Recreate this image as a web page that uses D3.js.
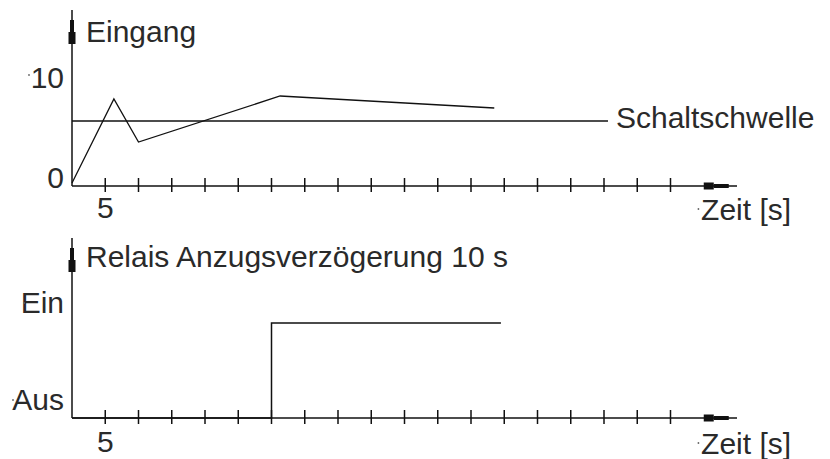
<!DOCTYPE html>
<html>
<head>
<meta charset="utf-8">
<script src="https://cdn.jsdelivr.net/npm/d3@7/dist/d3.min.js"></script>
<style>
  html, body { margin: 0; padding: 0; background: #fff; }
  svg text { font-family: "Liberation Sans", Arial, sans-serif; fill: #2a2a2a; }
</style>
</head>
<body>
<svg id="chart" width="830" height="459"></svg>
<script>
// ---- data ----
const inputTimes  = [0, 6.3, 10, 31.3, 63.5];      // s
const inputValues = [0, 8.4, 4.1, 8.7, 7.5];
const threshold = 6.2;
const thresholdEnd = 80.6;                          // s
const relayTimes  = [0, 30, 30, 64.5];
const relayStates = [0, 0, 1, 1];
const timeTicks = [5,10,15,20,25,30,35,40,45,50,55,60,65,70,75,80,85,90];
const timeTickLabels = ["5"];
const inputTickValues = [0, 10];
const inputTickLabels = ["0", "10"];
const relayTickValues = [0, 1];
const relayTickLabels = ["Aus", "Ein"];

const titleTop = "Eingang";
const titleBottom = "Relais Anzugsverzögerung 10 s";
const thresholdLabel = "Schaltschwelle";
const timeLabel = "Zeit [s]";

// ---- layout ----
const svg = d3.select("#chart");
const FS = 30;
const x = d3.scaleLinear().domain([0, 100]).range([72, 737]);
const yTop = d3.scaleLinear().domain([0, 10]).range([183, 83]);
const yBot = d3.scaleLinear().domain([0, 1]).range([418, 323]);

const panels = [
  { axisY: 186, topY: 10, title: titleTop, titleY: 42, tickBase: 218 },
  { axisY: 418, topY: 238, title: titleBottom, titleY: 267, tickBase: 452 }
];

const ink = "#111";

panels.forEach(p => {
  const g = svg.append("g");
  const ax = g.append("g").attr("transform", `translate(0,${p.axisY})`)
    .call(d3.axisBottom(x).tickValues(timeTicks).tickSize(0).tickFormat(""));
  ax.select(".domain").remove();
  g.append("line").attr("x1", x(0)).attr("x2", x(100))
    .attr("y1", p.axisY).attr("y2", p.axisY)
    .attr("stroke", ink).attr("stroke-width", 1.5);
  g.selectAll("line.tk").data(timeTicks).join("line").attr("class", "tk")
    .attr("x1", d => x(d)).attr("x2", d => x(d))
    .attr("y1", p.axisY - 8).attr("y2", p.axisY + 6)
    .attr("stroke", ink).attr("stroke-width", 1.5);
  // x arrow decoration
  g.append("rect").attr("x", x(95)).attr("y", p.axisY - 3.5).attr("width", 10).attr("height", 7).attr("fill", ink);
  g.append("rect").attr("x", x(95) + 10).attr("y", p.axisY - 2).attr("width", 15).attr("height", 4).attr("fill", ink);
  // x tick label
  g.selectAll("text.xl").data(timeTickLabels).join("text").attr("class", "xl")
    .attr("x", d => x(+d)).attr("y", p.tickBase).attr("text-anchor", "middle")
    .attr("font-size", FS).text(d => d);
  // time label
  g.append("circle").attr("cx", x(94.2)).attr("cy", p.tickBase - 9).attr("r", 0.9).attr("fill", "#666");
  g.append("text").attr("x", x(94.6)).attr("y", p.tickBase + 2).attr("font-size", FS).text(timeLabel);
  // y axis
  g.append("line").attr("x1", x(0)).attr("x2", x(0))
    .attr("y1", p.topY).attr("y2", p.axisY)
    .attr("stroke", ink).attr("stroke-width", 1.5);
  g.append("rect").attr("x", x(0) - 2).attr("y", p.topY + 10).attr("width", 4).attr("height", 12).attr("fill", ink);
  g.append("rect").attr("x", x(0) - 3.5).attr("y", p.topY + 22).attr("width", 7).attr("height", 12).attr("fill", ink);
  // title
  g.append("text").attr("x", 86).attr("y", p.titleY).attr("font-size", FS).text(p.title);
});

// ---- top panel: y tick labels ----
svg.selectAll("text.yt").data(inputTickValues).join("text").attr("class", "yt")
  .attr("x", 64).attr("y", d => yTop(d) + 5).attr("text-anchor", "end")
  .attr("font-size", FS).text((d, i) => inputTickLabels[i]);
svg.append("circle").attr("cx", 29).attr("cy", yTop(10) - 8).attr("r", 0.9).attr("fill", "#666");

// threshold line
svg.append("line").attr("x1", x(0)).attr("x2", x(thresholdEnd))
  .attr("y1", yTop(threshold)).attr("y2", yTop(threshold))
  .attr("stroke", ink).attr("stroke-width", 1.5);
svg.append("text").attr("x", x(thresholdEnd) + 8).attr("y", yTop(threshold) + 7)
  .attr("font-size", FS).text(thresholdLabel);

// input line
const inputData = inputTimes.map((t, i) => [t, inputValues[i]]);
svg.append("path").datum(inputData)
  .attr("d", d3.line().x(d => x(d[0])).y(d => yTop(d[1])))
  .attr("fill", "none").attr("stroke", ink).attr("stroke-width", 1.3);

// ---- bottom panel ----
svg.selectAll("text.yb").data(relayTickValues).join("text").attr("class", "yb")
  .attr("x", 64).attr("y", d => yBot(d) - 8 - 2 * d).attr("text-anchor", "end")
  .attr("font-size", FS).text((d, i) => relayTickLabels[i]);
relayTickValues.forEach((d, i) => {
  const w = relayTickLabels[i] === "Aus" ? 51 : 40;
  svg.append("circle").attr("cx", 64 - w).attr("cy", yBot(d) - 18 - 2 * d).attr("r", 0.9).attr("fill", "#666");
});

const relayData = relayTimes.map((t, i) => [t, relayStates[i]]);
svg.append("path").datum(relayData)
  .attr("d", d3.line().x(d => x(d[0])).y(d => yBot(d[1])))
  .attr("fill", "none").attr("stroke", ink).attr("stroke-width", 1.5);
</script>
</body>
</html>
